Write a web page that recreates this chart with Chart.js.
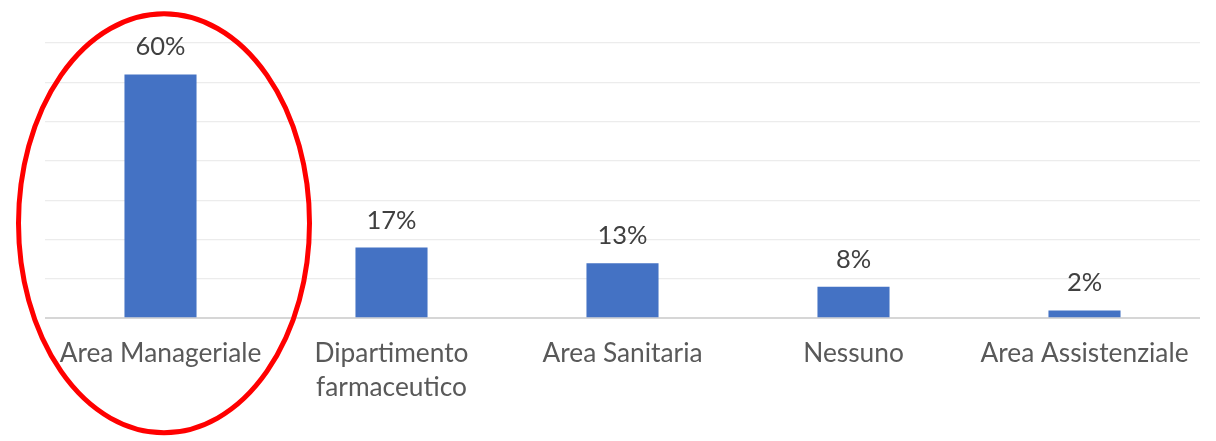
<!DOCTYPE html>
<html>
<head>
<meta charset="utf-8">
<script src="https://cdn.jsdelivr.net/npm/chart.js@4/dist/chart.umd.min.js"></script>
<style>
  html, body { margin: 0; padding: 0; background: #ffffff; }
  #wrap { width: 1216px; height: 441px; position: relative; }
</style>
</head>
<body>
<div id="wrap"><canvas id="c" width="1216" height="441"></canvas></div>
<script>
// Categories (multi-line labels as arrays)
const categories = [
  'Area Manageriale',
  ['Dipartimento', 'farmaceutico'],
  'Area Sanitaria',
  'Nessuno',
  'Area Assistenziale'
];
// Respondent counts (axis gridlines every 5)
const counts = [31, 9, 7, 4, 1];
// Value axis settings
const axisMax = 35;
const axisStep = 5;

const total = counts.reduce((a, b) => a + b, 0);
const FONT = 'Lato, "Open Sans", sans-serif';

const dataLabels = {
  id: 'dataLabels',
  afterDatasetsDraw(chart) {
    const ctx = chart.ctx;
    const meta = chart.getDatasetMeta(0);
    ctx.save();
    ctx.font = '25.5px ' + FONT;
    ctx.fillStyle = '#404040';
    ctx.textAlign = 'center';
    ctx.textBaseline = 'alphabetic';
    meta.data.forEach((bar, i) => {
      const pct = Math.round(counts[i] / total * 100) + '%';
      ctx.fillText(pct, bar.x, bar.y - 19);
    });
    ctx.restore();
  }
};

const highlight = {
  id: 'highlight',
  afterDraw(chart) {
    const ctx = chart.ctx;
    const x = chart.scales.x.getPixelForValue(0) + 3.5;
    ctx.save();
    ctx.strokeStyle = '#ff0000';
    ctx.lineWidth = 5;
    ctx.beginPath();
    ctx.ellipse(x, 223.3, 145.5, 209.5, 0, 0, Math.PI * 2);
    ctx.stroke();
    ctx.restore();
  }
};

new Chart(document.getElementById('c'), {
  type: 'bar',
  data: {
    labels: categories,
    datasets: [{
      data: counts,
      backgroundColor: '#4472c4',
      borderWidth: 0,
      categoryPercentage: 1,
      barPercentage: 0.312
    }]
  },
  options: {
    responsive: false,
    animation: false,
    devicePixelRatio: 1,
    layout: { padding: { left: 45, right: 16, top: 43, bottom: 0 } },
    plugins: { legend: { display: false }, tooltip: { enabled: false } },
    scales: {
      x: {
        grid: { display: false, drawTicks: false },
        border: { display: false },
        ticks: {
          color: '#595959',
          font: { family: FONT, size: 26.3, lineHeight: '34px' },
          padding: 18,
          maxRotation: 0,
          autoSkip: false
        },
        afterFit(scale) { scale.height = 122.7; }
      },
      y: {
        min: 0,
        max: axisMax,
        ticks: { display: false, stepSize: axisStep },
        border: { display: false },
        grid: {
          drawTicks: false,
          color: ctx => ctx.tick && ctx.tick.value === 0 ? '#d6d6d6' : '#ececec',
          lineWidth: ctx => ctx.tick && ctx.tick.value === 0 ? 2 : 1.2
        },
        afterFit(scale) { scale.width = 0; }
      }
    }
  },
  plugins: [dataLabels, highlight]
});
</script>
</body>
</html>
